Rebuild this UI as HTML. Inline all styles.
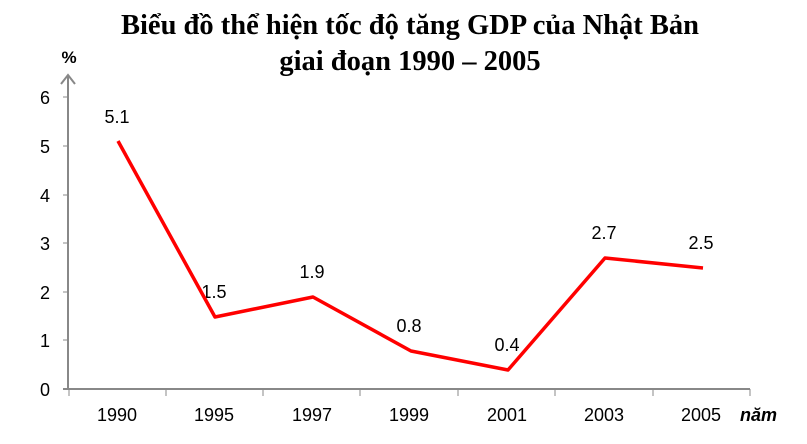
<!DOCTYPE html>
<html><head><meta charset="utf-8"><style>body{margin:0;background:#fff}</style></head><body>
<svg width="807" height="439" xmlns="http://www.w3.org/2000/svg">
<text x="410" y="34" text-anchor="middle" font-family="Liberation Serif, serif" font-weight="bold" font-size="28.5">Biểu đồ thể hiện tốc độ tăng GDP của Nhật Bản</text>
<text x="410" y="70" text-anchor="middle" font-family="Liberation Serif, serif" font-weight="bold" font-size="28.5">giai đoạn 1990 – 2005</text>
<text x="69" y="63" text-anchor="middle" font-family="Liberation Sans, sans-serif" font-weight="bold" font-size="17">%</text>
<g stroke="#888" stroke-width="2" fill="none">
<line x1="68" y1="76" x2="68" y2="390"/>
<polyline points="61,84 68,75 75,84"/>
<line x1="63" y1="389" x2="750" y2="389"/>
</g>
<g stroke="#888" stroke-width="1">
<line x1="63" y1="97" x2="68" y2="97"/><line x1="63" y1="146" x2="68" y2="146"/><line x1="63" y1="195" x2="68" y2="195"/><line x1="63" y1="243" x2="68" y2="243"/><line x1="63" y1="292" x2="68" y2="292"/><line x1="63" y1="340" x2="68" y2="340"/>
<line x1="166" y1="389" x2="166" y2="396"/><line x1="263" y1="389" x2="263" y2="396"/><line x1="360" y1="389" x2="360" y2="396"/><line x1="458" y1="389" x2="458" y2="396"/><line x1="555" y1="389" x2="555" y2="396"/><line x1="653" y1="389" x2="653" y2="396"/><line x1="750" y1="389" x2="750" y2="396"/><line x1="69" y1="389" x2="69" y2="396"/>
</g>
<g font-family="Liberation Sans, sans-serif" font-size="18" text-anchor="end">
<text x="50" y="104">6</text><text x="50" y="153">5</text><text x="50" y="202">4</text><text x="50" y="250">3</text><text x="50" y="299">2</text><text x="50" y="347">1</text><text x="50" y="396">0</text>
</g>
<g font-family="Liberation Sans, sans-serif" font-size="18" text-anchor="middle">
<text x="117" y="421">1990</text><text x="214" y="421">1995</text><text x="312" y="421">1997</text><text x="409" y="421">1999</text><text x="507" y="421">2001</text><text x="604" y="421">2003</text><text x="701" y="421">2005</text>
<text x="117" y="123">5.1</text><text x="214" y="298">1.5</text><text x="312" y="278">1.9</text><text x="409" y="332">0.8</text><text x="507" y="351">0.4</text><text x="604" y="239">2.7</text><text x="701" y="249">2.5</text>
</g>
<text x="740" y="421" font-family="Liberation Sans, sans-serif" font-weight="bold" font-style="italic" font-size="18">năm</text>
<polyline fill="none" stroke="#f00" stroke-width="3.5" stroke-linejoin="round" points="118,141 215,317 313,297 411,351 508,370 605,258 703,268"/>
</svg>
</body></html>
